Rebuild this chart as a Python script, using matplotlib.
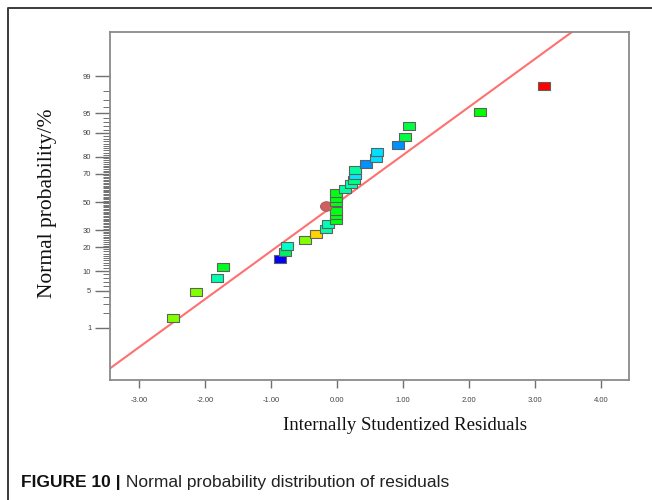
import numpy as np
import matplotlib
matplotlib.use("Agg")
import matplotlib.pyplot as plt
from matplotlib.lines import Line2D
from statistics import NormalDist

# ---------------- data ----------------
residuals = [-2.48, -2.13, -1.82, -1.72, -0.86, -0.79, -0.75, -0.48, -0.32, -0.16, -0.13,
             -0.02, -0.02, -0.02, -0.02, -0.02, -0.02,
             0.12, 0.21, 0.26, 0.27, 0.28, 0.44, 0.59, 0.60, 0.93, 1.03, 1.09, 2.17, 3.13]
probability = [1.6, 4.8, 8.1, 11.3, 14.5, 17.7, 21.0, 24.2, 27.4, 30.6, 33.9,
               37.1, 40.3, 43.5, 50.0, 53.2, 56.5,
               59.7, 62.9, 66.1, 69.4, 72.6, 75.8, 79.0, 82.3, 85.5, 88.7, 91.9, 95.2, 98.4]
point_colors = ["#80ff00", "#80ff00", "#00ffb0", "#00ff20", "#0000ff", "#00f060", "#00ffc8",
                "#80ff00", "#ffd200", "#00ffa8", "#00ffb4",
                "#00ff10", "#00ff10", "#00ff10", "#00ff10", "#00ff10", "#00ff10",
                "#00ffa0", "#00ffb0", "#00ff80", "#00e8ff", "#00ffa0", "#0090ff", "#00e0ff",
                "#00e0ff", "#0090ff", "#00ff40", "#00ff40", "#00ff00", "#ff0000"]

special_residual = [-0.17]
special_probability = [46.8]
special_color = "#d06060"

line_intercept = -0.02   # normal score at residual 0
line_slope = 0.89        # normal score per unit residual

x_ticks = [-3.0, -2.0, -1.0, 0.0, 1.0, 2.0, 3.0, 4.0]
y_major = [1, 5, 10, 20, 30, 50, 70, 80, 90, 95, 99]
y_minor = [p for p in range(2, 99) if p not in y_major]

x_label = "Internally Studentized Residuals"
y_label = "Normal probability/%"
caption_bold = "FIGURE 10 |"
caption_text = " Normal probability distribution of residuals"

# ---------------- helpers ----------------
nd = NormalDist()
def z(p):
    return np.array([nd.inv_cdf(v / 100.0) for v in p])

rect_marker = [(-1, -0.72), (1, -0.72), (1, 0.72), (-1, 0.72), (-1, -0.72)]
t = np.linspace(0, 2 * np.pi, 40)
ell_marker = list(zip(np.cos(t), 0.8 * np.sin(t)))

# ---------------- figure ----------------
W, H = 652, 500
fig = plt.figure(figsize=(W / 100, H / 100), dpi=100)
fig.patch.set_facecolor("white")

# outer frame (left + top edges)
fig.add_artist(Line2D([8 / W, 8 / W, 1.0], [0.0, 1 - 8 / H, 1 - 8 / H],
                      color="#3a3a3a", lw=1.4, transform=fig.transFigure))

ax = fig.add_axes([110 / W, 1 - 380 / H, (629 - 110) / W, (380 - 32) / H])
ax.set_xlim(-3.439, 4.424)
ax.set_ylim(-3.296, 3.148)

for s in ax.spines.values():
    s.set_color("#8a8a8a")
    s.set_linewidth(1.3)

# fit line
xl = np.array(ax.get_xlim())
ax.plot(xl, line_intercept + line_slope * xl, color="#ff7070", lw=1.5, zorder=2)

# points
zs = z(probability)
sz = z(special_probability)
order_items = [(p, "r", i) for i, p in enumerate(probability)] + [(special_probability[0], "s", 0)]
order_items.sort(key=lambda it: it[0])
for p, kind, i in order_items:
    if kind == "r":
        ax.plot(residuals[i], zs[i], marker=rect_marker, ms=8.3, mfc=point_colors[i],
                mec="#606060", mew=0.8, ls="none", zorder=3)
    else:
        ax.plot(special_residual[i], sz[i], marker=ell_marker, ms=8.6, mfc=special_color,
                mec="#a05050", mew=0.6, ls="none", zorder=3)

# ticks
ax.set_xticks(x_ticks)
ax.set_xticklabels([f"{v:.2f}" for v in x_ticks])
ax.set_yticks(z(y_major))
ax.set_yticklabels([str(v) for v in y_major])
ax.set_yticks(z(y_minor), minor=True)
ax.tick_params(axis="x", direction="out", length=6, width=1.0, color="#707070",
               labelsize=5.5, labelcolor="#444444", pad=6)
ax.tick_params(axis="y", which="major", direction="out", length=10.5, width=1.0,
               color="#707070", labelsize=5.5, labelcolor="#444444", pad=3)
ax.tick_params(axis="y", which="minor", direction="out", length=5, width=0.7,
               color="#707070")
for lab in ax.get_xticklabels() + ax.get_yticklabels():
    lab.set_family("Liberation Sans")

fig.text(405 / W, 1 - 425 / H, x_label, family="Liberation Serif", fontsize=13.5,
         ha="center", va="center", color="#111111")
fig.text(48 / W, 1 - 203 / H, y_label, family="Liberation Serif", fontsize=15.5,
         ha="center", va="center", rotation=90, color="#111111")

# caption
renderer = fig.canvas.get_renderer()
t1 = fig.text(21 / W, 1 - 483 / H, caption_bold, family="Liberation Sans",
              fontweight="bold", fontsize=12.5, ha="left", va="center", color="#111111")
bb = t1.get_window_extent(renderer=renderer)
fig.text(bb.x1 / W, 1 - 483 / H, caption_text, family="Liberation Sans",
         fontsize=12.5, ha="left", va="center", color="#222222")

fig.savefig("out.png", dpi=100, facecolor="white")
